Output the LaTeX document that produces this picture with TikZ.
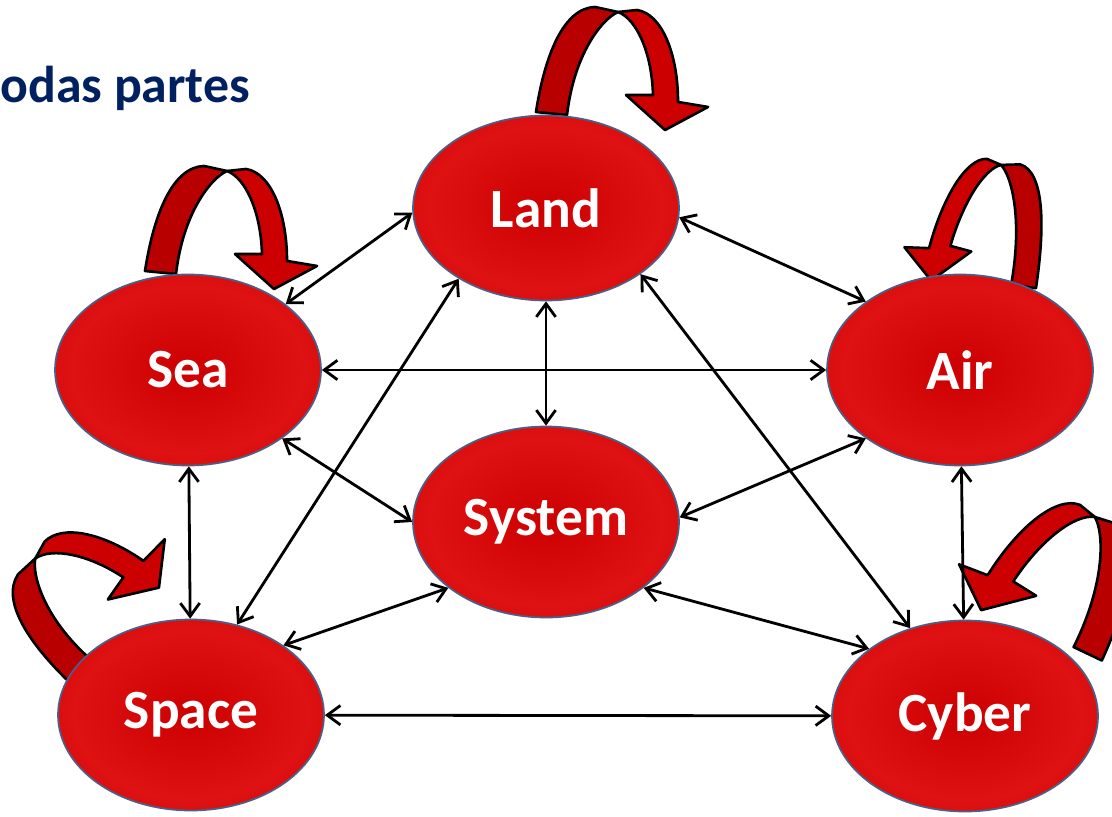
\documentclass[tikz,border=0pt]{standalone}
\usepackage{fontspec}
\setsansfont{Carlito}
\usetikzlibrary{arrows.meta,shapes.geometric,backgrounds}

\definecolor{navy}{RGB}{0,32,96}
\definecolor{rimblue}{RGB}{75,95,135}
\definecolor{loopred}{RGB}{204,0,0}
\definecolor{loopdark}{RGB}{184,0,0}

\pgfdeclareradialshading{redball}{\pgfpoint{0bp}{0bp}}{%
  rgb(0bp)=(0.80,0,0); rgb(22bp)=(0.87,0.07,0.07); rgb(34bp)=(0.82,0.02,0.02);
  rgb(43bp)=(0.68,0,0); rgb(50bp)=(0.45,0,0)}

\tikzset{
  selfloop/.pic={
    % rising half
    \filldraw[fill=loopdark, draw=black, line width=1.5pt, line join=round]
      (-16,2) .. controls (-7,60) and (12,106) .. (43,107)
      -- (66,102) .. controls (50,95) and (22,60) .. (15,-1) -- cycle;
    % falling half and head
    \filldraw[fill=loopred, draw=black, line width=1.5pt, line join=round]
      (66,102) -- (85,104) .. controls (110,100) and (126,60) .. (126,12)
      -- (156,7) -- (113,-16) -- (74,19) -- (101,19)
      .. controls (100,60) and (85,95) .. (66,102) -- cycle;
  }
}

\begin{document}
\begin{tikzpicture}[%
    x=0.02cm, y=0.02cm,
    realm/.style={ellipse, draw=rimblue, line width=1pt, shading=redball,
      minimum width=5.32cm, minimum height=3.82cm, inner sep=0pt,
      text=white, font=\sffamily\bfseries\fontsize{31.5}{36}\selectfont},
    link/.style={{Straight Barb[length=7.5pt,width=11pt]}-{Straight Barb[length=7.5pt,width=11pt]},
      line width=1.6pt}
  ]
  \useasboundingbox (0,0) rectangle (1112,816);

  \node[anchor=base west, inner sep=0pt, text=navy,
        font=\sffamily\bfseries\fontsize{29.5}{34}\selectfont] (title) at (0,713) {odas partes};

  \node[realm, minimum height=3.7cm] (land) at (546,608) {Land};
  \node[realm] (sea)    at (188,446) {Sea};
  \node[realm] (air)    at (960,446) {Air};
  \node[realm] (system) at (546,294) {System};
  \node[realm] (space)  at (191,101) {Space};
  \node[realm] (cyber)  at (965,100) {Cyber};

  \begin{scope}[on background layer]
    \pic at ([shift={(6,94)}]land.center) {selfloop};
    \pic at ([shift={(-27,97)}]sea.center) {selfloop};
    \pic[rotate=-15, xscale=-0.8, yscale=1.1] at ([shift={(63,83)}]air.center) {selfloop};
    \pic[rotate=55] at ([shift={(-110,44)}]space.center) {selfloop};
    \pic[rotate=-32, xscale=-1, yscale=1.18] at ([shift={(122,62)}]cyber.center) {selfloop};
  \end{scope}

  \path[link] (sea.34)     edge (land.182)
              (land.356)   edge (air.144)
              (sea)        edge (air)
              (land)       edge (system)
              (sea.324)    edge (system.180)
              (air.216)    edge (system.2)
              (sea)        edge (space)
              (air)        edge (cyber)
              (land.219)   edge (space.63)
              (land.325)   edge (cyber.122)
              (system.214) edge (space.37)
              (system.326) edge (cyber.145)
              (space)      edge (cyber);
\end{tikzpicture}
\end{document}
